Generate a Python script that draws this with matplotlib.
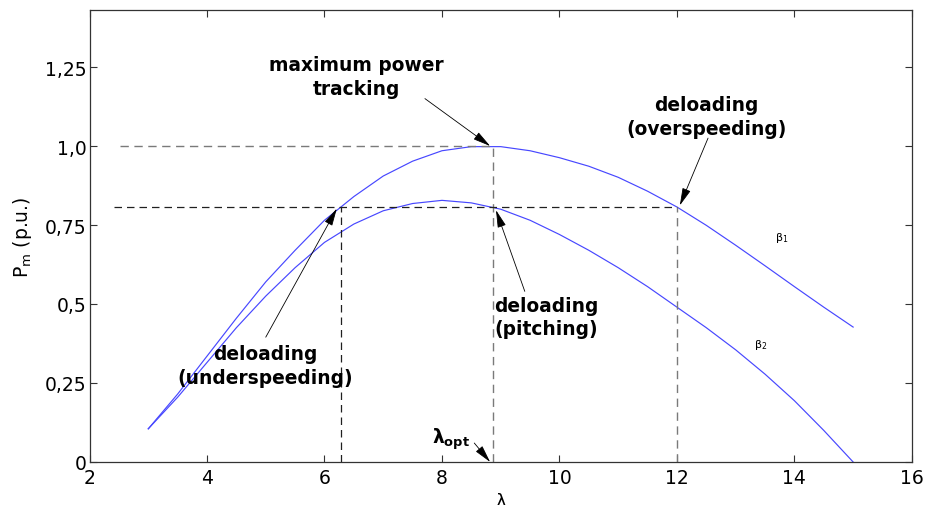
import matplotlib
matplotlib.use("Agg")
import matplotlib.pyplot as plt

plt.rcParams['font.family'] = ['DejaVu Sans']

# Tip speed ratio and mechanical power curves for two pitch angles
lam = [3, 3.5, 4, 4.5, 5, 5.5, 6, 6.5, 7, 7.5, 8, 8.5, 9, 9.5, 10,
       10.5, 11, 11.5, 12, 12.5, 13, 13.5, 14, 14.5, 15]
p_beta1 = [0.105, 0.215, 0.335, 0.455, 0.57, 0.67, 0.765, 0.84, 0.905, 0.952,
           0.985, 0.998, 0.998, 0.985, 0.963, 0.936, 0.901, 0.857, 0.807, 0.749,
           0.686, 0.621, 0.555, 0.49, 0.427]
p_beta2 = [0.105, 0.205, 0.315, 0.425, 0.525, 0.615, 0.695, 0.753, 0.795, 0.818,
           0.828, 0.82, 0.80, 0.765, 0.72, 0.67, 0.615, 0.555, 0.49, 0.425,
           0.355, 0.278, 0.194, 0.10, 0.0]

# Operating points
lam_opt = 8.87
lam_under = 6.28
lam_over = 12.0
p_max = 1.0
p_deload = 0.807

x_ticks = [2, 4, 6, 8, 10, 12, 14, 16]
y_ticks = [0, 0.25, 0.5, 0.75, 1.0, 1.25]
y_tick_labels = ['0', '0,25', '0,5', '0,75', '1,0', '1,25']

fig = plt.figure(figsize=(9.25, 5.06), dpi=100)
ax = fig.add_axes([0.0968, 0.085, 0.889, 0.893])

blue = (0.28, 0.28, 1.0)
ax.plot(lam, p_beta1, color=blue, lw=0.85)
ax.plot(lam, p_beta2, color=blue, lw=0.85)

gray = '#7a7a7a'
dark = '#202020'
dash = (0, (6, 4))
ax.plot([2.52, lam_opt], [p_max, p_max], color=gray, lw=1.0, linestyle=dash)
ax.plot([lam_opt, lam_opt], [0, p_max], color=gray, lw=1.0, linestyle=dash)
ax.plot([2.42, lam_over], [p_deload, p_deload], color=dark, lw=0.9, linestyle=dash)
ax.plot([lam_under, lam_under], [0, p_deload], color=dark, lw=0.9, linestyle=dash)
ax.plot([lam_over, lam_over], [0, p_deload], color=gray, lw=1.0, linestyle=dash)

ax.set_xlim(2, 16)
ax.set_ylim(0, 1.43)
ax.set_xticks(x_ticks)
ax.set_xticklabels([str(v) for v in x_ticks])
ax.set_yticks(y_ticks)
ax.set_yticklabels(y_tick_labels)
ax.tick_params(direction='in', length=5, width=0.8, top=True, right=True,
               labelsize=13.5, colors='#333333', labelcolor='black')
ax.tick_params(axis='y', pad=2)
ax.tick_params(axis='x', pad=4)
for s in ax.spines.values():
    s.set_color('#333333')
    s.set_linewidth(0.9)

ax.set_ylabel(r'P$_\mathregular{m}$ (p.u.)', fontsize=13.5, labelpad=8)
ax.set_xlabel('λ', fontsize=13, labelpad=4)

arrow = dict(arrowstyle='-|>,head_length=0.9,head_width=0.22', color='black',
             lw=0.6, shrinkA=0, shrinkB=0, mutation_scale=12)
tkw = dict(fontsize=13.4, fontweight='bold', ha='center', va='center',
           linespacing=1.3)

ax.text(6.55, 1.22, 'maximum power\ntracking', **tkw)
ax.annotate('', xy=(lam_opt - 0.05, p_max), xytext=(7.71, 1.15), arrowprops=arrow)

ax.text(12.5, 1.093, 'deloading\n(overspeeding)', **tkw)
ax.annotate('', xy=(lam_over + 0.05, p_deload + 0.005), xytext=(12.53, 1.025),
            arrowprops=arrow)

ax.text(9.77, 0.459, 'deloading\n(pitching)', **tkw)
ax.annotate('', xy=(lam_opt + 0.05, p_deload - 0.01), xytext=(9.41, 0.54),
            arrowprops=arrow)

ax.text(4.99, 0.305, 'deloading\n(underspeeding)', **tkw)
ax.annotate('', xy=(lam_under - 0.07, p_deload - 0.005), xytext=(5.0, 0.395),
            arrowprops=arrow)

ax.text(8.15, 0.075, r'λ$_\mathbf{opt}$', fontsize=13.4, fontweight='bold',
        ha='center', va='center')
ax.annotate('', xy=(lam_opt - 0.05, 0.0), xytext=(8.55, 0.06), arrowprops=arrow)

ax.text(13.79, 0.712, r'β$_\mathregular{1}$', fontsize=8, ha='center', va='center')
ax.text(13.43, 0.373, r'β$_\mathregular{2}$', fontsize=8, ha='center', va='center')

fig.savefig('out.png', dpi=100)
